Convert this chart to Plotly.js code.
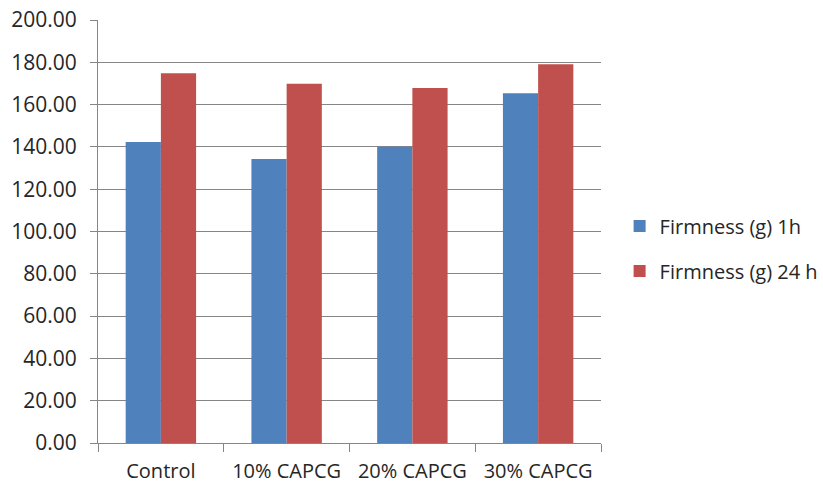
<!DOCTYPE html>
<html><head><meta charset="utf-8">
<script src="https://cdn.plot.ly/plotly-3.0.1.min.js"></script>
<style>html,body{margin:0;padding:0;background:#fff;}#chart{width:823px;height:484px;}</style>
</head><body><div id="chart"></div>
<script>
var categories = ["Control", "10% CAPCG", "20% CAPCG", "30% CAPCG"];
var firmness1h = [142.3, 134.3, 140.1, 165.4];
var firmness24h = [174.8, 169.8, 167.8, 179.1];
var seriesNames = ["Firmness (g) 1h", "Firmness (g) 24 h"];

var fontFam = "Open Sans, Liberation Sans, sans-serif";
var traces = [
  {type: "bar", x: categories, y: firmness1h, name: seriesNames[0], legendgroup: "a",
   marker: {color: "#4F81BD", line: {width: 0}}},
  {type: "bar", x: categories, y: firmness24h, name: seriesNames[1], legendgroup: "b",
   marker: {color: "#C0504D", line: {width: 0}}}
];
var layout = {
  width: 823, height: 484,
  margin: {l: 98, r: 222, t: 20, b: 41, pad: 0, autoexpand: false},
  paper_bgcolor: "#fff", plot_bgcolor: "#fff",
  font: {family: fontFam, size: 20, color: "#262626"},
  barmode: "group", bargap: 0.44, bargroupgap: 0,
  showlegend: true,
  legend: {x: 1.037, xanchor: "left", y: 0.46, yanchor: "middle",
    traceorder: "grouped", tracegroupgap: 16, font: {family: fontFam, size: 20, color: "#262626"}},
  xaxis: {type: "category", showline: true, linecolor: "#868686", linewidth: 1,
    ticks: "outside", tickson: "boundaries", ticklen: 8, tickcolor: "#868686",
    showgrid: false, zeroline: false, ticklabelstandoff: 10, tickfont: {size: 20}, automargin: false},
  yaxis: {range: [0, 200], dtick: 20, tickformat: ".2f", showline: true, linecolor: "#868686",
    linewidth: 1, ticks: "outside", ticklen: 7, tickcolor: "#868686",
    showgrid: true, gridcolor: "#868686", gridwidth: 1, zeroline: false, ticklabelstandoff: 9,
    tickfont: {size: 21}, automargin: false}
};
Plotly.newPlot("chart", traces, layout, {displayModeBar: false, staticPlot: true});
</script></body></html>
